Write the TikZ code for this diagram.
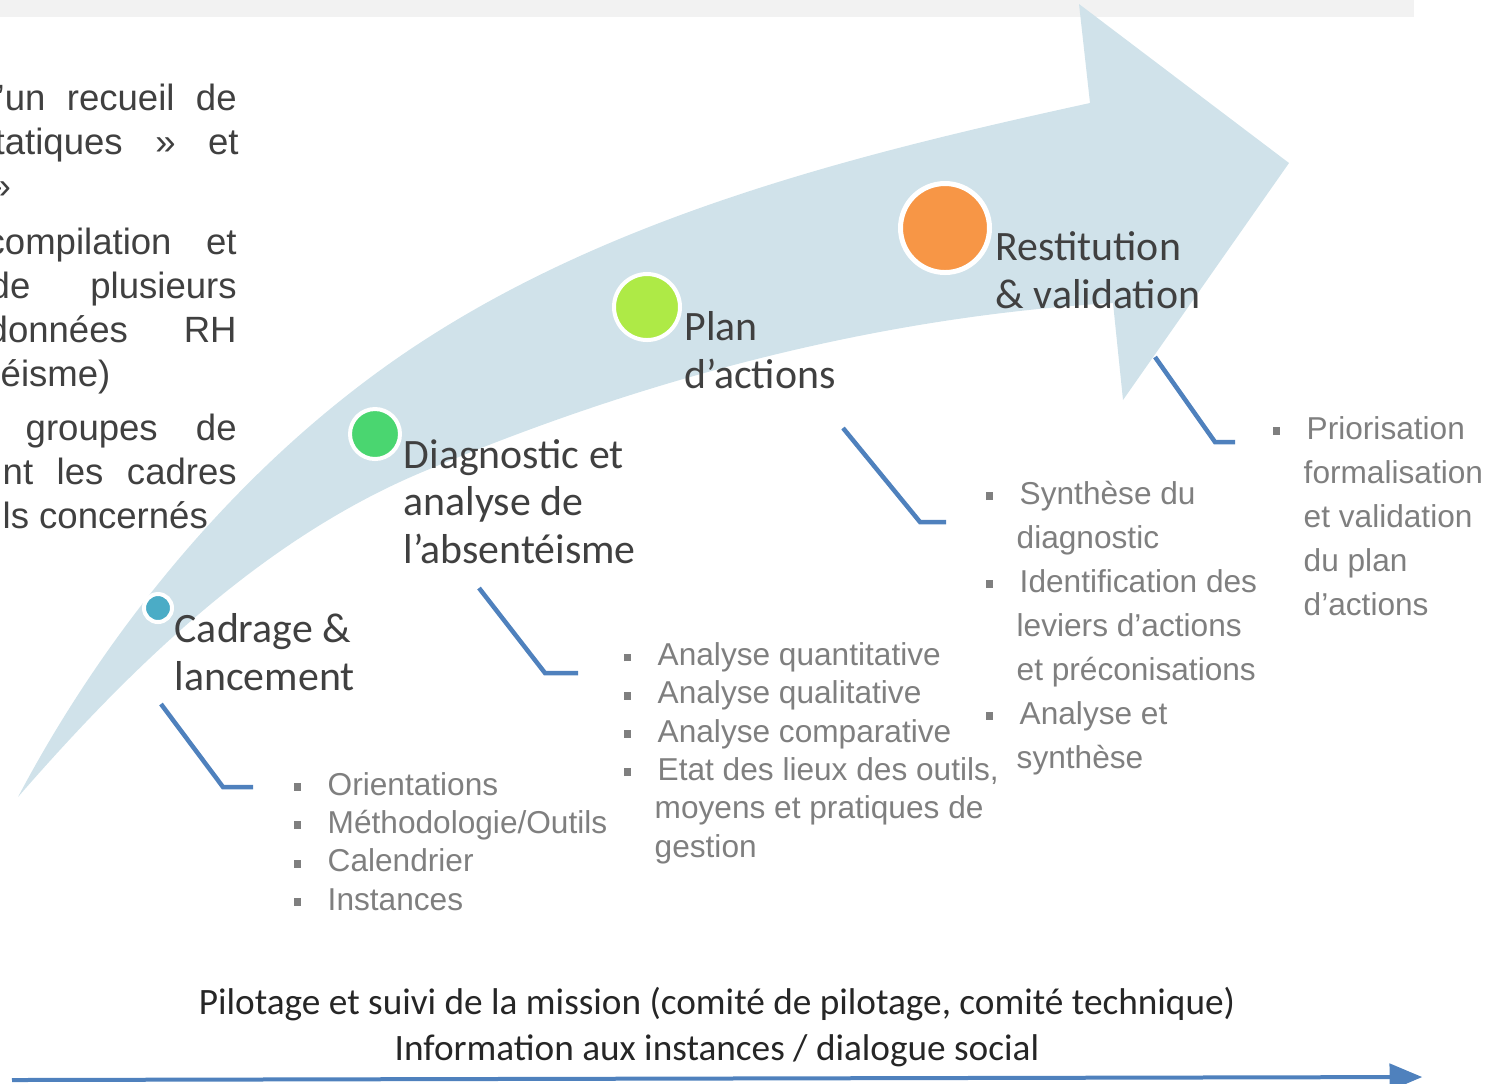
\documentclass[tikz,border=0pt]{standalone}
\usepackage{fontspec}
\setmainfont{Carlito}
\newfontfamily\arialfam{Liberation Sans}
\usepackage{tikz}
\usetikzlibrary{arrows}
\definecolor{fleche}{RGB}{208,226,234}
\definecolor{lien}{RGB}{79,129,189}
\definecolor{gristexte}{RGB}{127,127,127}
\definecolor{grisfonce}{RGB}{64,64,64}
\definecolor{bandeau}{RGB}{242,242,242}
\definecolor{etape1}{RGB}{75,172,198}
\definecolor{etape2}{RGB}{74,214,112}
\definecolor{etape3}{RGB}{174,234,70}
\definecolor{etape4}{RGB}{247,150,70}
\newcommand{\puce}{\makebox[3.4mm][l]{\color{gristexte}\rule[1.2pt]{2.2pt}{2.2pt}}}
\newcommand{\suite}{\hspace*{3.1mm}}
\tikzset{
  etape/.style = {circle, draw=white, line width=0.4mm, inner sep=0pt},% pastille
  titre_etape/.style = {anchor=base west, align=left, inner sep=0pt,
    text=grisfonce, font=\fontsize{11.9}{13.4}\selectfont},
  liste/.style = {anchor=base west, align=left, inner sep=0pt,
    text=gristexte, font=\arialfam\fontsize{9}{10.9}\selectfont},
  liste_large/.style = {liste, font=\arialfam\fontsize{9}{12.5}\selectfont},
  texte_gauche/.style = {anchor=base west, align=left, inner sep=0pt,
    text=grisfonce, font=\arialfam\fontsize{10.4}{12.5}\selectfont},
  pied/.style = {anchor=base, align=center, inner sep=0pt,
    text=black!85, font=\fontsize{10.6}{13}\selectfont},
  lien/.style = {draw=lien, line width=0.45mm}% trait vers la liste
}

\begin{document}
\begin{tikzpicture}[x=0.1mm, y=-0.1mm, >=triangle 45]
\useasboundingbox (0,0) rectangle (1497,1083);
\clip (0,0) rectangle (1497,1083);
\fill[bandeau] (0,0) rectangle (1414,17);

% la grande fleche courbe (les noeuds sont poses sur la derniere ligne)
\fill[fleche] (18,797) .. controls (102,638) and (223,488) .. (367,380)
  .. controls (573,225) and (838,158) .. (1090,103)
  -- (1079,4) -- (1289,163) -- (1123,400) -- (1113,303)
  .. controls (875,317) and (639,380) .. (420,473)
  .. controls (262,540) and (132,666) .. (18,797)
  -- cycle;

% texte coupe a gauche
\node[texte_gauche] (para1) at (-4,198) {%
  \hbox to 24mm{’un\hfill recueil\hfill de}\\
  \hbox to 24.2mm{\hspace*{-0.2mm}tatiques\hfill »\hfill et}\\
  \hbox to 24mm{\hspace*{-0.6mm}»\hfill}};
\node[texte_gauche] (para2) at (-4,386) {%
  \hbox to 24mm{\hspace*{-1mm}compilation\hfill et}\\
  \hbox to 24mm{\hspace*{-0.7mm}de\hfill plusieurs}\\
  \hbox to 24mm{\hspace*{-0.9mm}données\hfill RH}\\
  \hbox to 24mm{\hspace*{0.4mm}éisme)\hfill}};
\node[texte_gauche] (para3) at (-4,528) {%
  \hbox to 24mm{\hspace*{2.9mm}groupes\hfill de}\\
  \hbox to 24mm{\hspace*{0.6mm}nt\hfill les\hfill cadres}\\
  \hbox to 24mm{\hspace*{0.6mm}ls concernés\hfill}};

% les etapes
\node[etape, fill=etape1, minimum size=2.8mm] (pt_cadrage) at (158,608) {};
\node[etape, fill=etape2, minimum size=5mm] (pt_diagnostic) at (375,434) {};
\node[etape, fill=etape3, minimum size=6.6mm] (pt_plan) at (647,307) {};
\node[etape, fill=etape4, minimum size=8.9mm, line width=0.5mm] (pt_restitution) at (945,228) {};

\node[titre_etape] (cadrage) at (174,690) {Cadrage \&\\lancement};
\node[titre_etape] (diagnostic) at (403,563) {Diagnostic et\\analyse de\\l’absentéisme};
\node[titre_etape] (plan) at (684,388) {Plan\\d’actions};
\node[titre_etape] (restitution) at (995,308) {Restitution\\\& validation};

% listes
\node[liste] (l_cadrage) at (293,910) {%
  \puce Orientations\\ \puce Méthodologie/Outils\\ \puce Calendrier\\ \puce Instances};
\node[liste] (l_diagnostic) at (623,857) {%
  \puce Analyse quantitative\\ \puce Analyse qualitative\\ \puce Analyse comparative\\
  \puce Etat des lieux des outils,\\ \suite moyens et pratiques de\\ \suite gestion};
\node[liste_large] (l_plan) at (985,768) {%
  \puce Synthèse du\\ \suite diagnostic\\ \puce Identification des\\
  \suite leviers d’actions\\ \suite et préconisations\\ \puce Analyse et\\ \suite synthèse};
\node[liste_large] (l_restitution) at (1272,615) {%
  \puce Priorisation\\ \suite formalisation\\ \suite et validation\\ \suite du plan\\ \suite d’actions};

% traits vers les listes
\coordinate (c1) at (161,704);  \coordinate (c1b) at (223,787);
\coordinate (c2) at (479,588);  \coordinate (c2b) at (545,673);
\coordinate (c3) at (843,428);  \coordinate (c3b) at (920,522);
\coordinate (c4) at (1155,357); \coordinate (c4b) at (1215,442);
\draw[lien] (c1) -- (c1b) -- ++(30,0);
\draw[lien] (c2) -- (c2b) -- ++(33,0);
\draw[lien] (c3) -- (c3b) -- ++(26,0);
\draw[lien] (c4) -- (c4b) -- ++(20,0);

% pilotage
\node[pied] (pilotage) at (717,1060) {Pilotage et suivi de la mission (comité de pilotage, comité technique)\\Information aux instances / dialogue social};
\coordinate (debut) at (12,1080);
\coordinate (fin) at (1422,1077);
\draw[->, draw=lien, line width=0.4mm] (debut) -- (fin);
\end{tikzpicture}
\end{document}
